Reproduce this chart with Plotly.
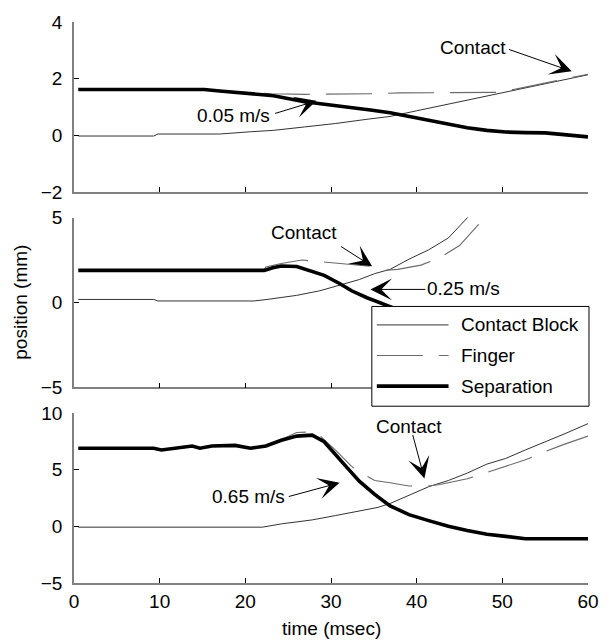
import plotly.graph_objects as go

# ---------------- data (time in msec, position in mm) ----------------
# Top panel: 0.05 m/s
top_sep_t = [0.5, 15.2, 17.0, 20.2, 23.3, 26.9, 30.1, 32.4, 34.6, 36.9, 39.1, 41.4, 43.7, 45.9, 48.2, 50.4, 52.7, 55.0, 57.2, 60.0]
top_sep = [1.62, 1.62, 1.57, 1.49, 1.40, 1.19, 1.08, 0.99, 0.90, 0.80, 0.67, 0.55, 0.42, 0.27, 0.18, 0.12, 0.10, 0.09, 0.03, -0.05]
top_block_t = [0.5, 9.3, 9.8, 17.0, 20.6, 23.3, 26.9, 30.5, 34.2, 36.9, 40.0, 45.0, 50.0, 55.0, 60.0]
top_block = [-0.02, -0.02, 0.05, 0.05, 0.13, 0.18, 0.30, 0.42, 0.57, 0.67, 0.87, 1.19, 1.50, 1.82, 2.14]
top_finger_t = [0.5, 15.2, 17.0, 20.2, 23.0, 27.0, 32.0, 35.0, 38.0, 42.0, 46.0, 49.5, 52.0, 55.0, 58.0, 60.0]
top_finger = [1.62, 1.62, 1.57, 1.51, 1.47, 1.45, 1.45, 1.47, 1.50, 1.50, 1.50, 1.52, 1.66, 1.85, 2.04, 2.16]

# Middle panel: 0.25 m/s
mid_sep_t = [0.5, 22.2, 23.2, 24.2, 26.0, 27.8, 29.2, 31.0, 32.4, 34.2, 35.5, 36.9, 38.0]
mid_sep = [1.89, 1.89, 2.05, 2.15, 2.12, 1.80, 1.60, 1.12, 0.69, 0.28, 0.01, -0.24, -0.45]
mid_block_t = [0.5, 9.3, 9.8, 21.0, 22.4, 24.2, 26.0, 28.7, 31.0, 33.3, 35.1, 36.9, 39.1, 41.4, 43.7, 45.9, 46.5]
mid_block = [0.18, 0.18, 0.09, 0.09, 0.17, 0.28, 0.42, 0.69, 1.02, 1.35, 1.70, 1.95, 2.55, 3.10, 3.80, 5.00, 5.30]
mid_finger_t = [0.5, 22.2, 22.4, 24.2, 26.6, 28.9, 31.0, 34.6, 36.4, 37.8, 40.5, 42.8, 45.0, 47.5]
mid_finger = [1.93, 1.93, 2.09, 2.30, 2.50, 2.40, 2.30, 2.13, 1.90, 1.95, 2.20, 2.67, 3.35, 4.75]

# Bottom panel: 0.65 m/s
bot_sep_t = [0.5, 9.3, 10.2, 12.0, 13.8, 14.7, 16.1, 18.8, 20.6, 22.4, 24.2, 26.0, 27.8, 29.2, 30.5, 31.9, 33.3, 35.1, 36.9, 39.1, 41.4, 43.7, 45.9, 48.2, 50.4, 52.7, 55.0, 60.0]
bot_sep = [6.9, 6.9, 6.75, 6.9, 7.1, 6.9, 7.1, 7.15, 6.9, 7.1, 7.6, 7.97, 8.05, 7.47, 6.31, 5.16, 3.99, 2.83, 1.81, 1.04, 0.51, 0.02, -0.36, -0.70, -0.88, -1.09, -1.09, -1.09]
bot_block_t = [0.5, 22.0, 24.2, 26.0, 27.8, 30.5, 33.3, 35.5, 36.9, 39.1, 40.5, 41.4, 43.7, 45.9, 48.2, 50.4, 52.7, 55.0, 57.2, 60.0]
bot_block = [-0.07, -0.07, 0.22, 0.37, 0.57, 0.95, 1.33, 1.68, 2.02, 2.75, 3.20, 3.50, 4.05, 4.70, 5.50, 6.00, 6.75, 7.45, 8.15, 9.07]
bot_finger_t = [0.5, 9.3, 10.2, 12.0, 13.8, 14.7, 16.1, 18.8, 20.6, 22.4, 24.2, 26.0, 27.8, 28.7, 30.5, 32.4, 34.2, 35.1, 36.9, 39.1, 41.4, 42.7, 45.9, 48.2, 50.4, 52.7, 55.0, 57.2, 60.0]
bot_finger = [6.85, 6.85, 6.7, 6.85, 7.05, 6.85, 7.05, 7.1, 6.85, 7.05, 7.65, 8.29, 8.35, 8.0, 6.75, 5.3, 4.43, 4.05, 3.85, 3.56, 3.56, 3.7, 4.2, 4.78, 5.3, 5.88, 6.6, 7.24, 7.97]

x_ticks = [0, 10, 20, 30, 40, 50, 60]
y_ticks_top = [-2, 0, 2, 4]
y_ticks_mid = [-5, 0, 5]
y_ticks_bot = [-5, 0, 5, 10]
legend_names = ["Contact Block", "Finger", "Separation"]

FONT = "Liberation Sans, Arial, Helvetica, sans-serif"
FS = 19
BLOCK_STYLE = dict(color="#333333", width=1)
FINGER_STYLE = dict(color="#6a6a6a", width=1.1, dash="46px,16px")
SEP_STYLE = dict(color="black", width=3.6)

fig = go.Figure()
panels = [
    ("x", "y", top_block_t, top_block, top_finger_t, top_finger, top_sep_t, top_sep),
    ("x2", "y2", mid_block_t, mid_block, mid_finger_t, mid_finger, mid_sep_t, mid_sep),
    ("x3", "y3", bot_block_t, bot_block, bot_finger_t, bot_finger, bot_sep_t, bot_sep),
]
for xa, ya, bt, bv, ft, fv, st, sv in panels:
    fig.add_trace(go.Scatter(x=bt, y=bv, mode="lines", line=BLOCK_STYLE, xaxis=xa, yaxis=ya,
                             showlegend=False, name=legend_names[0]))
    fig.add_trace(go.Scatter(x=ft, y=fv, mode="lines", line=FINGER_STYLE, xaxis=xa, yaxis=ya,
                             showlegend=False, name=legend_names[1]))
    fig.add_trace(go.Scatter(x=st, y=sv, mode="lines", line=SEP_STYLE, xaxis=xa, yaxis=ya,
                             showlegend=False, name=legend_names[2]))

axis_common = dict(showline=True, linecolor="#808080", linewidth=1.5, ticks="inside", ticklen=5,
                   tickcolor="black", tickwidth=1, showgrid=False, zeroline=False, mirror=False,
                   tickfont=dict(family=FONT, size=FS, color="black"))

H = 568.0
dom_top = [(583 - 187.3) / H, 1.0]
dom_mid = [(583 - 385) / H, (583 - 213) / H]
dom_bot = [0.0, (583 - 411) / H]

fig.update_layout(
    width=611, height=641,
    margin=dict(l=74, r=21, t=15, b=58),
    paper_bgcolor="white", plot_bgcolor="white",
    font=dict(family=FONT, size=FS, color="black"),
    xaxis=dict(axis_common, range=[0, 60], tickvals=x_ticks, showticklabels=False, anchor="y", domain=[0, 1]),
    xaxis2=dict(axis_common, range=[0, 60], tickvals=x_ticks, showticklabels=False, anchor="y2", domain=[0, 1]),
    xaxis3=dict(axis_common, range=[0, 60], tickvals=x_ticks, showticklabels=True, anchor="y3", domain=[0, 1]),
    yaxis=dict(axis_common, range=[-2, 4], tickvals=y_ticks_top, anchor="x", domain=dom_top, ticklabelstandoff=6),
    yaxis2=dict(axis_common, range=[-5, 5], tickvals=y_ticks_mid, anchor="x2", domain=dom_mid, ticklabelstandoff=6),
    yaxis3=dict(axis_common, range=[-5, 10], tickvals=y_ticks_bot, anchor="x3", domain=dom_bot, ticklabelstandoff=6),
    showlegend=False,
)

# annotations: text labels and arrows (data coordinates)
labels = [
    ("x", "y", "Contact", 46.6, 3.1),
    ("x", "y", "0.05 m/s", 18.6, 0.7),
    ("x2", "y2", "Contact", 26.9, 4.12),
    ("x2", "y2", "0.25 m/s", 45.5, 0.83),
    ("x3", "y3", "Contact", 39.1, 8.84),
    ("x3", "y3", "0.65 m/s", 20.4, 2.6),
]
for xr, yr, txt, tx, ty in labels:
    fig.add_annotation(xref=xr, yref=yr, x=tx, y=ty, text=txt, showarrow=False,
                       font=dict(family=FONT, size=FS, color="black"))

arrows = [
    ("x", "y", 50.6, 3.05, 58.1, 2.26),
    ("x", "y", 23.3, 0.76, 28.3, 1.22),
    ("x2", "y2", 31.0, 3.35, 34.8, 2.13),
    ("x2", "y2", 41.2, 0.77, 34.6, 0.77),
    ("x3", "y3", 39.5, 8.2, 40.9, 4.22),
    ("x3", "y3", 24.9, 2.6, 31.0, 3.85),
]
for xr, yr, ax, ay, hx, hy in arrows:
    fig.add_annotation(xref=xr, yref=yr, axref=xr, ayref=yr, x=hx, y=hy, ax=ax, ay=ay, text="",
                       showarrow=True, arrowhead=3, arrowsize=3.6, arrowwidth=1, arrowcolor="black",
                       standoff=0, startstandoff=0)

# axis titles
fig.add_annotation(xref="paper", yref="paper", x=0.5, y=(583 - 629) / H, text="time (msec)",
                   showarrow=False, xanchor="center", yanchor="middle",
                   font=dict(family=FONT, size=FS, color="black"))
fig.add_annotation(xref="paper", yref="paper", x=(20 - 74) / 516.0, y=(583 - 299) / H, text="position (mm)",
                   showarrow=False, textangle=-90, xanchor="center", yanchor="middle",
                   font=dict(family=FONT, size=FS, color="black"))

# manual legend box (paper coordinates)
def px2x(p):
    return (p - 74) / 516.0

def py2y(p):
    return (583 - p) / H

fig.add_shape(type="rect", xref="paper", yref="paper", x0=px2x(373), x1=px2x(591), y0=py2y(404), y1=py2y(303),
              line=dict(color="black", width=1), fillcolor="white", layer="above")
leg_rows = [(321.7, BLOCK_STYLE), (352.7, FINGER_STYLE), (383.7, SEP_STYLE)]
for (yy, style), name in zip(leg_rows, legend_names):
    fig.add_shape(type="line", xref="paper", yref="paper", x0=px2x(378), x1=px2x(450), y0=py2y(yy), y1=py2y(yy),
                  line=style, layer="above")
    fig.add_annotation(xref="paper", yref="paper", x=px2x(460), y=py2y(yy), text=name, showarrow=False,
                       xanchor="left", yanchor="middle", font=dict(family=FONT, size=FS, color="black"))

fig.write_html("out.html", config={"displayModeBar": False},
               post_script="document.body.style.margin='0';document.body.style.overflow='hidden';")
